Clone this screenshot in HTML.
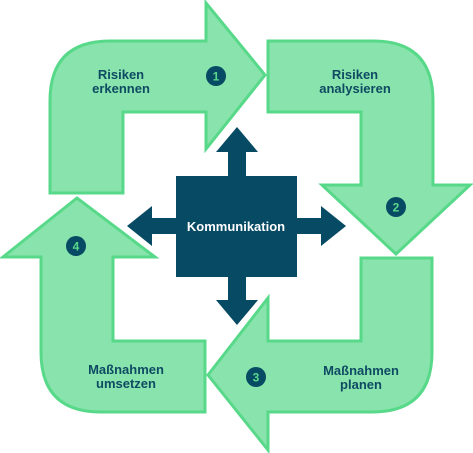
<!DOCTYPE html>
<html><head><style>body{margin:0;background:#fff}svg{display:block}text{font-family:"Liberation Sans",sans-serif;font-weight:bold}</style></head>
<body>
<svg width="473" height="453" viewBox="0 0 473 453">
<g fill="#88e4ac" stroke="#58d98a" stroke-width="3" stroke-linejoin="miter">
<path d="M50,193 L50,101 Q50,41 110,41 L206,41 L206,3 L265,75 L206,149 L206,112 L123,112 L123,193 Z"/>
<path d="M268,41 L373,41 Q433,41 433,101 L433,185 L470,185 L396,254 L322,185 L361,185 L361,112 L268,112 Z"/>
<path d="M432,258 L432,352 Q432,412 372,412 L268,412 L268,450 L208,375 L268,298 L268,341 L361,341 L361,258 Z"/>
<path d="M205,412 L101,412 Q41,412 41,352 L41,257 L3,257 L77,198 L155,257 L113,257 L113,341 L205,341 Z"/>
</g>
<g fill="#074a63">
<rect x="176" y="176" width="121" height="101"/>
<path d="M228,176 L228,152 L216,152 L237,127 L258,152 L246,152 L246,176 Z"/>
<path d="M228,277 L228,300 L216,300 L237,325 L258,300 L246,300 L246,277 Z"/>
<path d="M176,218 L152,218 L152,206 L127,226 L152,246 L152,234 L176,234 Z"/>
<path d="M297,218 L321,218 L321,206 L346,226 L321,246 L321,234 L297,234 Z"/>
<circle cx="216" cy="76" r="10"/><circle cx="396" cy="207" r="10"/>
<circle cx="256" cy="377" r="10"/><circle cx="76" cy="246" r="10"/>
</g>
<g fill="#58d98a" font-size="12" text-anchor="middle">
<text x="216" y="80.5">1</text><text x="396" y="211.5">2</text>
<text x="256" y="381.5">3</text><text x="76" y="250.5">4</text>
</g>
<g fill="#0f4a63" font-size="13" text-anchor="middle">
<text x="121" y="79">Risiken</text><text x="121" y="93">erkennen</text>
<text x="355" y="79">Risiken</text><text x="355" y="93">analysieren</text>
<text x="361" y="375">Maßnahmen</text><text x="361" y="389">planen</text>
<text x="126" y="374">Maßnahmen</text><text x="126" y="388">umsetzen</text>
</g>
<text x="236" y="231" fill="#fff" font-size="13" text-anchor="middle">Kommunikation</text>
</svg>
</body></html>
